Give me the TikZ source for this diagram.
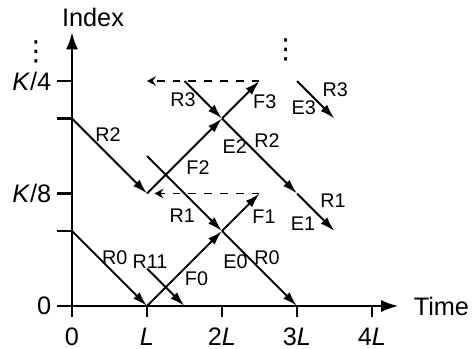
\documentclass[tikz,border=0pt]{standalone}
\usepackage{fontspec}
\setmainfont{Liberation Sans}
\newfontfamily\symfont{DejaVu Sans}
\usetikzlibrary{positioning, arrows.meta}
\tikzset{
  axis/.style  = {line width=0.9pt, -{Latex[length=6.5pt,width=4.6pt]}},
  tick/.style  = {line width=0.9pt},
  ray/.style   = {line width=0.75pt, -{Latex[length=5.6pt,width=3.4pt]}},
  echo/.style  = {line width=0.75pt, dashed, -{Stealth[length=3.4pt,width=3.6pt,inset=1.2pt]}},
  lab/.style   = {font=\fontsize{7.5}{8}\selectfont, inner sep=0pt},
  big/.style   = {font=\fontsize{9.6}{11}\selectfont, inner sep=0pt},
  dots/.style  = {font=\symfont\fontsize{10.5}{11}\selectfont, inner sep=0pt},
}

\begin{document}
\begin{tikzpicture}[x=1cm, y=1cm]
\useasboundingbox (-0.96,-0.573) rectangle (5.387,4.08);

% Grid points (time in L, index)
\coordinate (O)  at (0,0);
\coordinate (a0) at (0,1);
\coordinate (a2) at (0,2.5);
\coordinate (b0) at (1,0);
\coordinate (b1) at (1,0.5);
\coordinate (b2) at (1,1.5);
\coordinate (b3) at (1,2);
\coordinate (c0) at (1.5,0);
\coordinate (c3) at (1.5,3);
\coordinate (d1) at (2,1);
\coordinate (d2) at (2,2.5);
\coordinate (e1) at (2.5,1.5);
\coordinate (e2) at (2.5,3);
\coordinate (f0) at (3,0);
\coordinate (f1) at (3,1.5);
\coordinate (f2) at (3,3);
\coordinate (g1) at (3.5,1);
\coordinate (g2) at (3.5,2.5);
\coordinate (h1) at (1.1,1.5);
\coordinate (h2) at (1.0,3);
\coordinate (xend) at (4.35,0);
\coordinate (yend) at (0,3.65);

% Axes
\draw [axis] (-0.2,0) -- (xend);
\draw [axis] (0,-0.15) -- (yend);
\foreach \y in {1,1.5,2.5,3}
  \draw [tick] (-0.2,\y) -- (0,\y);
\foreach \x in {0,1,2,3,4}
  \draw [tick] (\x,0) -- (\x,-0.15);

\node (tIndex) [big] at (0.28,3.85) {Index};
\node (tTime)  [big, anchor=west] at (4.55,0) {Time};
\node (y0) [big, anchor=east] at (-0.27,0)   {0};
\node (y8) [big, anchor=east] at (-0.27,1.5) {\textit{K}/8};
\node (y4) [big, anchor=east] at (-0.27,3)   {\textit{K}/4};
\node (ydots) [dots] at (-0.48,3.39) {⋮};
\node (mdots) [dots] at (2.85,3.41) {⋮};
\node (x0) [big] at (0,-0.41) {0};
\node (x1) [big] at (1,-0.41) {\textit{L}};
\node (x2) [big] at (2,-0.41) {2\textit{L}};
\node (x3) [big] at (3,-0.41) {3\textit{L}};
\node (x4) [big] at (4,-0.41) {4\textit{L}};

% Rays
\draw [ray] (a0) -- (b0);
\draw [ray] (b1) -- (c0);
\draw [ray] (b0) -- (d1);
\draw [ray] (b3) -- (d1);
\draw [ray] (d1) -- (f0);
\draw [ray] (d1) -- (e1);
\draw [ray] (a2) -- (b2);
\draw [ray] (b2) -- (d2);
\draw [ray] (c3) -- (d2);
\draw [ray] (d2) -- (f1);
\draw [ray] (f1) -- (g1);
\draw [ray] (d2) -- (e2);
\draw [ray] (f2) -- (g2);

% Echoes back
\draw [echo] (e1) -- (h1);
\draw [echo] (e2) -- (h2);

% Ray labels
\node (lR0)  [lab] at (0.57,0.65) {R0};
\node (lR11) [lab] at (1.04,0.59) {R11};
\node (lF0)  [lab] at (1.66,0.37) {F0};
\node (lR1)  [lab] at (1.47,1.20) {R1};
\node (lE0)  [lab] at (2.18,0.59) {E0};
\node (lR0b) [lab] at (2.60,0.65) {R0};
\node (lF1)  [lab] at (2.56,1.19) {F1};
\node (lE1)  [lab] at (3.08,1.10) {E1};
\node (lR1b) [lab] at (3.48,1.40) {R1};
\node (lF2)  [lab] at (1.68,1.85) {F2};
\node (lR2)  [lab] at (0.48,2.29) {R2};
\node (lR3)  [lab] at (1.48,2.75) {R3};
\node (lE2)  [lab] at (2.17,2.13) {E2};
\node (lR2b) [lab] at (2.60,2.20) {R2};
\node (lF3)  [lab] at (2.57,2.72) {F3};
\node (lE3)  [lab] at (3.09,2.64) {E3};
\node (lR3b) [lab] at (3.51,2.88) {R3};

\end{tikzpicture}
\end{document}
